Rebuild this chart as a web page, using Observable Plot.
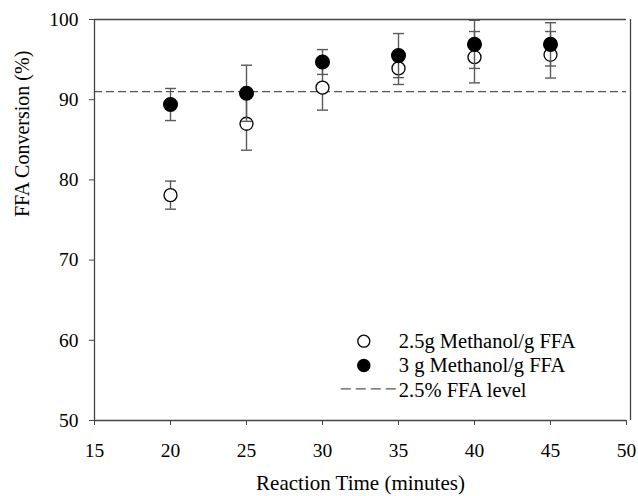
<!DOCTYPE html>
<html><head><meta charset="utf-8">
<script src="https://cdn.jsdelivr.net/npm/d3@7"></script>
<script src="https://cdn.jsdelivr.net/npm/@observablehq/plot@0.6"></script>
<style>body{margin:0;background:#fff} #chart svg{display:block}</style>
</head><body><div id="chart"></div>
<script>
// Data
const times = [20, 25, 30, 35, 40, 45];
const seriesNames = ["2.5g Methanol/g FFA", "3 g Methanol/g FFA"];
const conv25 = [78.1, 87.0, 91.5, 93.9, 95.3, 95.6];
const err25 = [1.75, 3.3, 2.8, 2.0, 3.2, 2.9];
const conv3 = [89.4, 90.8, 94.7, 95.5, 96.9, 96.9];
const err3 = [2.0, 3.5, 1.55, 2.75, 3.0, 2.7];
const thresholdLabel = "2.5% FFA level";
const threshold = 91;
const xTicks = [15, 20, 25, 30, 35, 40, 45, 50];
const yTicks = [50, 60, 70, 80, 90, 100];
const xLabel = "Reaction Time (minutes)";
const yLabel = "FFA Conversion (%)";

const rows = (vals, errs, s) => times.map((t, i) => ({t, v: vals[i], e: errs[i], s}));
const open = rows(conv25, err25, seriesNames[0]);
const filled = rows(conv3, err3, seriesNames[1]);

const capSym = {draw(c) { c.moveTo(-5.5, 0); c.lineTo(5.5, 0); }};
const dashSym = {draw(c) { c.moveTo(-28, 0); c.lineTo(28, 0); }};
const errColor = "#5a5a5a";
const axisColor = "#444";
const font = "'Liberation Serif', 'Times New Roman', serif";

function errMarks(data) {
  return [
    Plot.ruleX(data, {x: "t", y1: d => d.v - d.e, y2: d => d.v + d.e, stroke: errColor, strokeWidth: 1.4}),
    Plot.dot(data, {x: "t", y: d => d.v + d.e, symbol: capSym, stroke: errColor, strokeWidth: 1.4, fill: "none"}),
    Plot.dot(data, {x: "t", y: d => d.v - d.e, symbol: capSym, stroke: errColor, strokeWidth: 1.4, fill: "none"})
  ];
}

const chart = Plot.plot({
  width: 638, height: 496,
  marginLeft: 94, marginRight: 12, marginTop: 19, marginBottom: 76,
  style: {fontFamily: font, fontSize: "19.5px", background: "#fff", color: "#000", overflow: "visible"},
  x: {domain: [15, 50], label: null},
  y: {domain: [50, 100], label: null},
  marks: [
    Plot.ruleY([threshold], {stroke: "#555", strokeDasharray: "8,4", strokeWidth: 1.3}),
    Plot.ruleY([100], {stroke: axisColor, strokeWidth: 1.3}),
    Plot.ruleX([50], {stroke: axisColor, strokeWidth: 1.3, dx: 4}),
    Plot.ruleY([50], {stroke: axisColor, strokeWidth: 1.3}),
    Plot.ruleX([15], {stroke: axisColor, strokeWidth: 1.3}),
    Plot.axisX({ticks: xTicks, tickSize: 5, tickPadding: 18, stroke: axisColor, fill: "#000", label: null, tickFormat: d => d}),
    Plot.axisY({ticks: yTicks, tickSize: 5, tickPadding: 11, stroke: axisColor, fill: "#000", label: null, tickFormat: d => d}),
    ...errMarks(open),
    Plot.dot(open, {x: "t", y: "v", r: 6.5, fill: "#fff", stroke: "#000", strokeWidth: 1.3}),
    ...errMarks(filled),
    Plot.dot(filled, {x: "t", y: "v", r: 6.8, fill: "#000", stroke: "#000"}),
    // axis titles
    Plot.text([xLabel], {frameAnchor: "bottom", lineAnchor: "bottom", dy: 69, fontSize: 21, fill: "#000"}),
    Plot.text([yLabel], {frameAnchor: "left", rotate: -90, dx: -72, dy: -3, fontSize: 20, fill: "#000"}),
    // legend
    Plot.dot([seriesNames[0]], {frameAnchor: "top-left", dx: 269.3, dy: 321.7, r: 6, fill: "#fff", stroke: "#000", strokeWidth: 1.3}),
    Plot.dot([seriesNames[1]], {frameAnchor: "top-left", dx: 269.3, dy: 346, r: 6, fill: "#000", stroke: "#000"}),
    Plot.dot([thresholdLabel], {frameAnchor: "top-left", dx: 274.3, dy: 369.3, symbol: dashSym, stroke: "#555", strokeDasharray: "10,5", strokeWidth: 1.3, fill: "none"}),
    Plot.text([seriesNames[0]], {frameAnchor: "top-left", textAnchor: "start", lineAnchor: "bottom", dx: 304.3, dy: 328.3, fontSize: 20.5, fill: "#000"}),
    Plot.text([seriesNames[1]], {frameAnchor: "top-left", textAnchor: "start", lineAnchor: "bottom", dx: 304.3, dy: 352.7, fontSize: 20.5, fill: "#000"}),
    Plot.text([thresholdLabel], {frameAnchor: "top-left", textAnchor: "start", lineAnchor: "bottom", dx: 304.3, dy: 377, fontSize: 20.5, fill: "#000"})
  ]
});
document.getElementById("chart").append(chart);
</script>
</body></html>
